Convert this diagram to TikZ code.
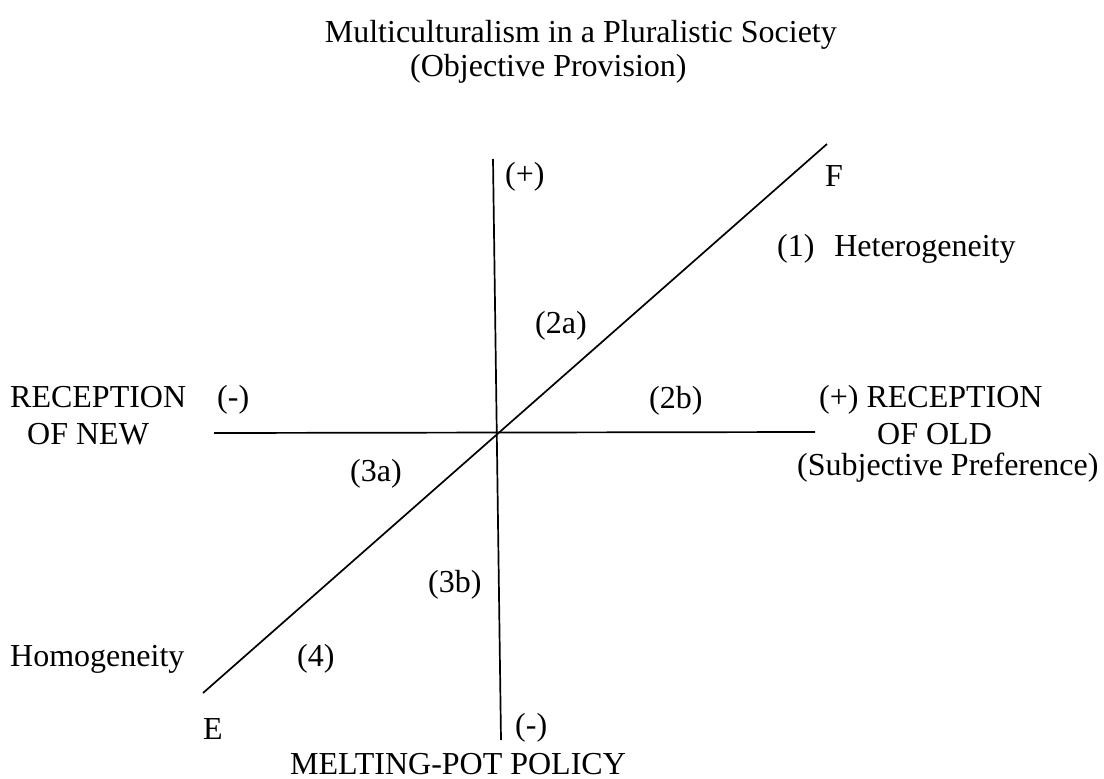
\documentclass[tikz,border=0pt]{standalone}
\usepackage{fontspec}
\setmainfont{Liberation Serif}
\usepackage{tikz}
\usetikzlibrary{calc}

\begin{document}
\begin{tikzpicture}
        [x=1pt,y=-1pt]
            \tikzstyle{every node}=[inner sep=0pt, anchor=base west,
        font=\fontsize{32}{38}\selectfont]
            \tikzstyle{axis}=[line width=1.7pt]
        \useasboundingbox (0,0) rectangle (1104,779);
        %-----title
         \node[anchor=base east] (title) at (837,42) {Multiculturalism in a Pluralistic Society};
         \node (prov) at (410,76) {(Objective Provision)};
        %-----axes
         \coordinate (top) at (493,159);
         \coordinate (bot) at (501,740);
         \coordinate (lft) at (214,433);
         \coordinate (rgt) at (815,432);
         \coordinate (sw) at (203,693);
         \coordinate (ne) at (827,144);

         \foreach \from/\to in {top/bot, lft/rgt, sw/ne}
         \draw[axis] (\from) -- (\to);

        %-----labels
         \node (plustop) at (505,184) {(+)};
         \node (F) at (825,186) {F};
         \node (het) at (777,256) {(1)\hspace{0.62em}Heterogeneity};
         \node (twoa) at (535,333) {(2a)};
         \node (recnew) at (10,407) {RECEPTION};
         \node (ofnew) at (27,444) {OF NEW};
         \node (minusl) at (217,407) {(-)};
         \node (twob) at (649,408) {(2b)};
         \node (recold) at (819,407) {(+) RECEPTION};
         \node (ofold) at (877,444) {OF OLD};
         \node (subj) at (797,475) {(Subjective Preference)};
         \node (threea) at (350,481) {(3a)};
         \node (threeb) at (428,592) {(3b)};
         \node (homo) at (10,666) {Homogeneity};
         \node (four) at (297,666) {(4)};
         \node (E) at (203,739) {E};
         \node (minusb) at (515,735) {(-)};
         \node (melt) at (290,774) {MELTING-POT POLICY};

        \end{tikzpicture}
\end{document}
